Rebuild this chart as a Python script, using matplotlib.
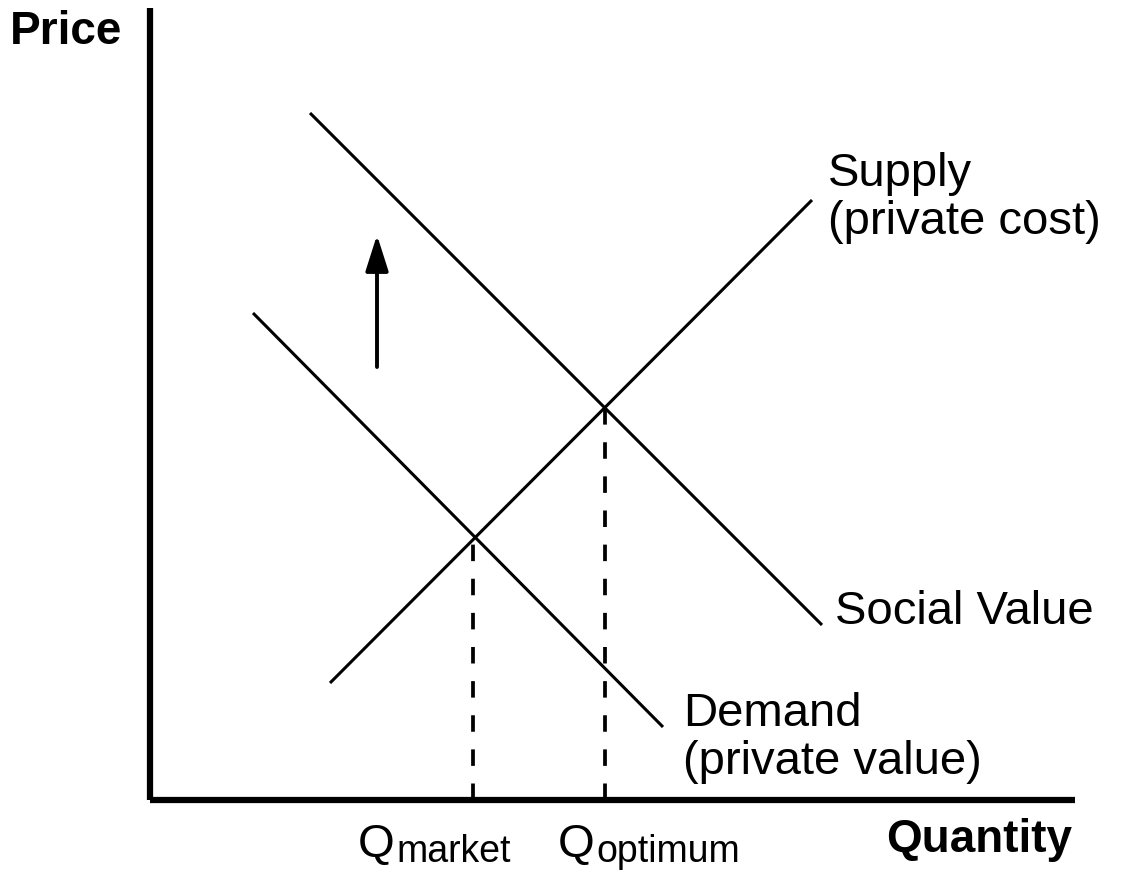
import matplotlib.pyplot as plt
from matplotlib.patches import FancyArrowPatch

# curve endpoints (quantity, price) in chart units
social_q = [160, 672]
social_p = [687, 175]
demand_q = [103, 513]
demand_p = [487, 73]
supply_q = [180, 662]
supply_p = [117, 600]

# equilibrium points
q_market, p_market = 323, 263
q_optimum, p_optimum = 455, 395

# shift arrow
arrow_q = 227
arrow_from, arrow_to = 433, 565

W, H = 1121, 876
fig = plt.figure(figsize=(W / 100, H / 100), dpi=100)
ax = fig.add_axes([150 / W, (H - 800) / H, 925 / W, 792 / H])
ax.set_xlim(0, 925)
ax.set_ylim(0, 792)
for s in ['top', 'right']:
    ax.spines[s].set_visible(False)
for s in ['left', 'bottom']:
    ax.spines[s].set_linewidth(4.5)
    ax.spines[s].set_capstyle('butt')
ax.set_xticks([])
ax.set_yticks([])

font = 'Liberation Sans'
lw = 2.2
ax.plot(social_q, social_p, color='black', lw=lw, solid_capstyle='butt')
ax.plot(demand_q, demand_p, color='black', lw=lw, solid_capstyle='butt')
ax.plot(supply_q, supply_p, color='black', lw=lw, solid_capstyle='butt')

ax.plot([q_market, q_market], [0, p_market], color='black', lw=2.7,
        dashes=(4.4, 4.7), dash_capstyle='butt')
ax.plot([q_optimum, q_optimum], [0, p_optimum], color='black', lw=2.7,
        dashes=(4.4, 4.7), dash_capstyle='butt')

arr = FancyArrowPatch((arrow_q, arrow_from), (arrow_q, arrow_to),
                      arrowstyle='-|>,head_length=1.1,head_width=0.35',
                      mutation_scale=20, color='black', lw=2.8,
                      shrinkA=0, shrinkB=0)
ax.add_patch(arr)

# labels (figure pixel coordinates)
def ftext(px, py, s, **kw):
    fig.text(px / W, 1 - py / H, s, family=font, **kw)

ftext(10, 32, 'Price', fontsize=33, fontweight='bold', va='center', ha='left')
ftext(1072, 840, 'Quantity', fontsize=33, fontweight='bold', va='center', ha='right')
ftext(828, 198, 'Supply\n(private cost)', fontsize=34, va='center', ha='left',
      linespacing=1.1)
ftext(835, 612, 'Social Value', fontsize=34, va='center', ha='left')
ftext(683, 738, 'Demand\n(private value)', fontsize=34, va='center', ha='left',
      linespacing=1.1)

ftext(358, 857, 'Q', fontsize=34, va='baseline', ha='left')
ftext(396, 862, 'market', fontsize=27, va='baseline', ha='left')
ftext(558, 857, 'Q', fontsize=34, va='baseline', ha='left')
ftext(596, 862, 'optimum', fontsize=27, va='baseline', ha='left')

fig.savefig('out.png', dpi=100)
